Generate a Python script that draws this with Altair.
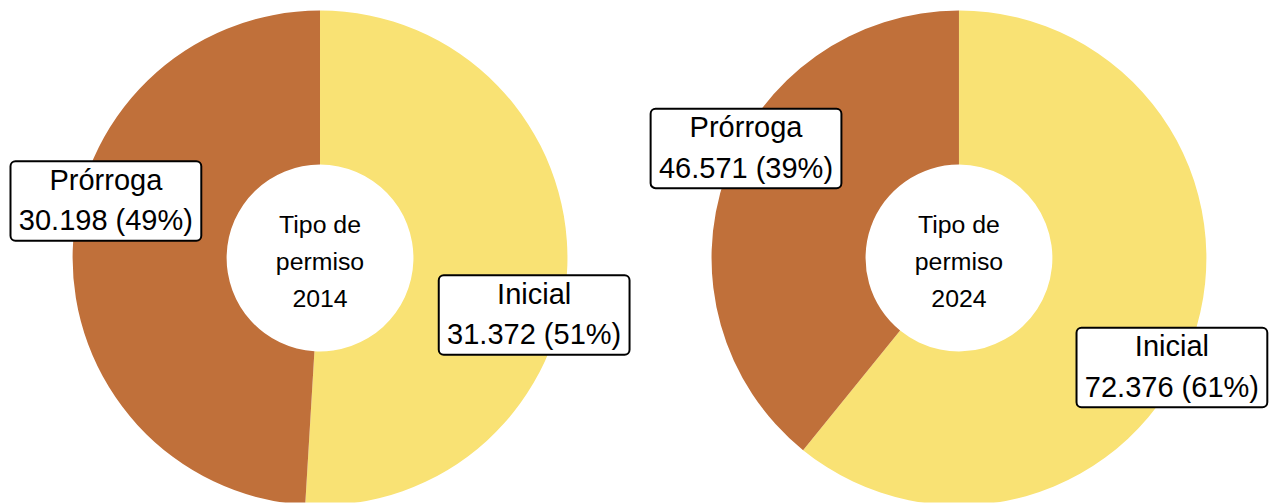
import math
import altair as alt
import pandas as pd

# ---- data ----
anios = ["2014", "2024"]
tipos = ["Inicial", "Prórroga"]
valores_2014 = [31372, 30198]
valores_2024 = [72376, 46571]
titulo_centro = "Tipo de\npermiso"

colores = ["#F9E274", "#C0703A"]

H = 496
CY = 250          # pie centre, px from the top of the plot area
R_OUT = 249
R_IN = 94
FONT = "Liberation Sans"
LAB_SIZE = 29.2
LAB_LH = 41
CEN_SIZE = 25
CEN_LH = 37


def panel(anio, valores, W, label_r, label_off_deg):
    df = pd.DataFrame({"tipo": tipos, "valor": valores, "orden": list(range(len(tipos)))})
    base = alt.Chart(df)
    xs = alt.Scale(domain=[-W / 2, W / 2], nice=False, zero=False)
    ys = alt.Scale(domain=[-(H - CY), CY], nice=False, zero=False)
    off = math.radians(label_off_deg)

    arcs = base.mark_arc(outerRadius=R_OUT, innerRadius=R_IN, clip=True).encode(
        theta=alt.Theta("valor:Q", stack=True),
        color=alt.Color("tipo:N", scale=alt.Scale(domain=tipos, range=colores), legend=None),
        order=alt.Order("orden:Q"),
        y=alt.value(CY),
    )

    lab = base.transform_joinaggregate(total="sum(valor)").transform_window(
        cum="sum(valor)", sort=[alt.SortField("orden")], frame=[None, 0]
    ).transform_calculate(
        ang=f"2*PI*(datum.cum - datum.valor/2)/datum.total + {off}",
        lx=f"{label_r}*sin(datum.ang)",
        ly=f"{label_r}*cos(datum.ang)",
        x1="datum.lx - 96",
        x2="datum.lx + 96",
        y1="datum.ly - 40",
        y2="datum.ly + 40",
        label="datum.tipo + '\\n' + replace(format(datum.valor, ','), ',', '.') + ' (' + format(datum.valor/datum.total, '.0%') + ')'",
    )

    boxes = lab.mark_rect(fill="white", stroke="black", strokeWidth=2, cornerRadius=5).encode(
        x=alt.X("x1:Q", scale=xs, axis=None),
        x2="x2:Q",
        y=alt.Y("y1:Q", scale=ys, axis=None),
        y2="y2:Q",
    )
    texts = lab.mark_text(
        font=FONT, fontSize=LAB_SIZE, lineHeight=LAB_LH, lineBreak="\n",
        align="center", baseline="middle", color="black", dy=-LAB_LH / 2,
    ).encode(
        x=alt.X("lx:Q", scale=xs, axis=None),
        y=alt.Y("ly:Q", scale=ys, axis=None),
        text="label:N",
    )

    centro = alt.Chart(pd.DataFrame({"t": [f"{titulo_centro}\n{anio}"]})).mark_text(
        font=FONT, fontSize=CEN_SIZE, lineHeight=CEN_LH, lineBreak="\n",
        align="center", baseline="middle", color="black", dy=-CEN_LH + 4,
    ).encode(
        x=alt.XDatum(0, scale=xs, axis=None),
        y=alt.YDatum(0, scale=ys, axis=None),
        text="t:N",
    )

    return alt.layer(arcs, boxes, texts, centro).properties(width=W, height=H)


p1 = panel(anios[0], valores_2014, 628, 223, 13.2)
p2 = panel(anios[1], valores_2024, 622, 241, 7.7)

chart = alt.hconcat(p1, p2, spacing=18, bounds="flush").properties(
    padding={"top": 0, "left": 0, "right": 0, "bottom": 0}
).configure_view(stroke=None)

chart.save("out.html", embed_options={"renderer": "svg", "actions": False})
